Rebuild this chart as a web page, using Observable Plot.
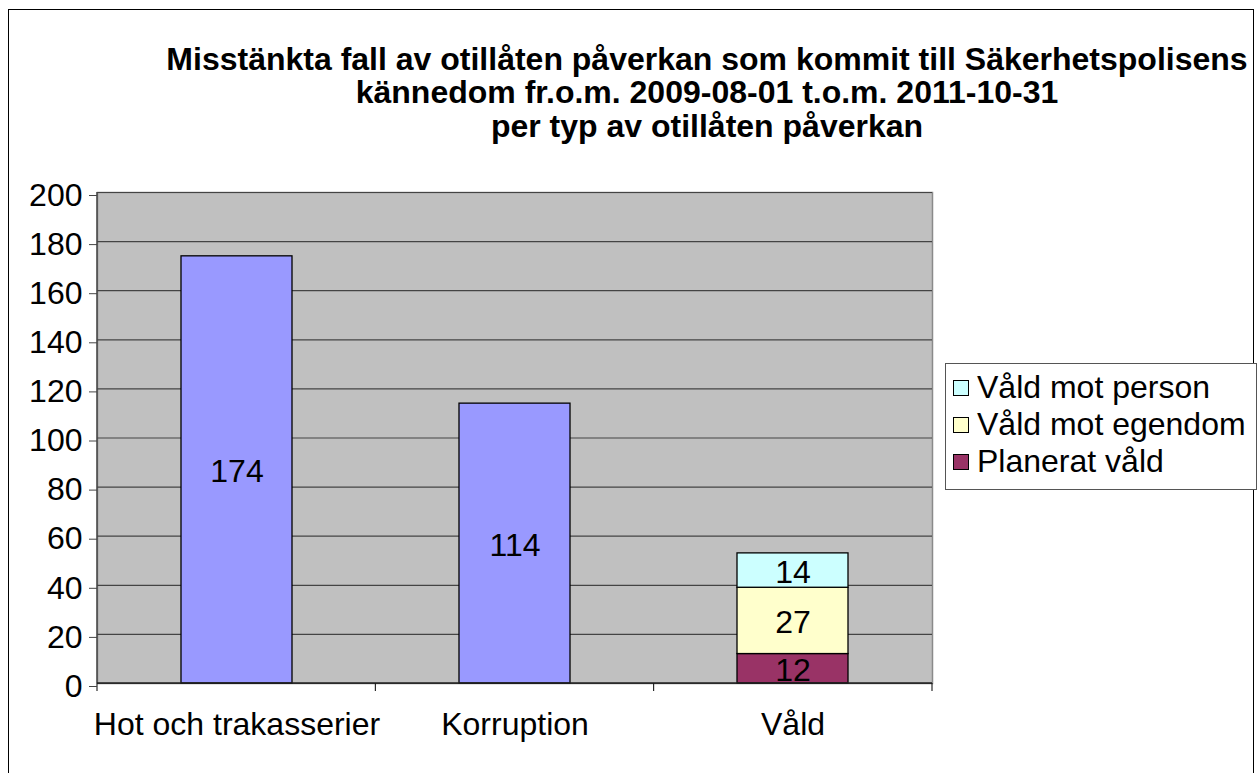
<!DOCTYPE html>
<html><head><meta charset="utf-8">
<script src="https://cdn.jsdelivr.net/npm/d3@7"></script>
<script src="https://cdn.jsdelivr.net/npm/@observablehq/plot@0.6"></script>
<style>
body{margin:0;background:#fff;font-family:"Liberation Sans",Arial,sans-serif;}
#wrap{position:relative;width:1258px;height:773px;overflow:hidden;}
#border{position:absolute;left:8px;top:9px;width:1246px;height:800px;border:1px solid #000;box-sizing:border-box;}
#title{position:absolute;left:107px;width:1200px;top:43px;text-align:center;font-weight:bold;font-size:32px;line-height:33.3px;color:#000;}
#chart{position:absolute;left:0;top:0;}
#legend{position:absolute;left:945px;top:363px;width:312px;height:127px;border:1px solid #555;box-sizing:border-box;background:#fff;padding-top:5px;}
.row{display:flex;align-items:center;height:37px;font-size:32px;color:#000;white-space:nowrap;}
.sw{width:16px;height:16px;border:1px solid #000;box-sizing:border-box;margin-left:7px;margin-right:8px;flex:none;}
</style></head>
<body>
<div id="wrap">
<div id="border"></div>
<div id="chart"></div>
<div id="title">Misstänkta fall av otillåten påverkan som kommit till Säkerhetspolisens<br>kännedom fr.o.m. 2009-08-01 t.o.m. 2011-10-31<br>per typ av otillåten påverkan</div>
<div id="legend"></div>
</div>
<script>
const categories = ["Hot och trakasserier", "Korruption", "Våld"];
const seriesNames = ["Hot och trakasserier", "Korruption", "Planerat våld", "Våld mot egendom", "Våld mot person"];
const seriesCategory = ["Hot och trakasserier", "Korruption", "Våld", "Våld", "Våld"];
const seriesValues = [174, 114, 12, 27, 14];
const yTicks = [0, 20, 40, 60, 80, 100, 120, 140, 160, 180, 200];
const palette = ["#9999FF", "#9999FF", "#993366", "#FFFFCC", "#CCFFFF"];
const legendSeries = ["Våld mot person", "Våld mot egendom", "Planerat våld"];

const rows = seriesNames.map((s, i) => ({category: seriesCategory[i], series: s, value: seriesValues[i]}));
const colorOf = s => palette[seriesNames.indexOf(s)];

function frameLines(index, scales, values, dimensions) {
  const {width, height, marginLeft, marginRight, marginTop, marginBottom} = dimensions;
  const n = categories.length;
  const step = (width - marginLeft - marginRight) / n;
  const g = d3.create("svg:g");
  const yb = height - marginBottom;
  for (let i = 0; i <= n; i++) {
    const x = marginLeft + i * step;
    g.append("line").attr("x1", x).attr("x2", x).attr("y1", yb).attr("y2", yb + 8).attr("stroke", "#000");
  }
  g.append("line").attr("x1", marginLeft).attr("x2", marginLeft).attr("y1", marginTop).attr("y2", yb).attr("stroke", "#444").attr("stroke-width", 1.5);
  g.append("line").attr("x1", marginLeft).attr("x2", width - marginRight).attr("y1", yb).attr("y2", yb).attr("stroke", "#222").attr("stroke-width", 1.5);
  return g.node();
}

const chart = Plot.plot({
  width: 1258,
  height: 773,
  marginLeft: 97,
  marginRight: 326,
  marginTop: 192,
  marginBottom: 90,
  style: {fontFamily: "'Liberation Sans', Arial, sans-serif", fontSize: "32px", color: "#000", background: "transparent", overflow: "visible"},
  x: {domain: categories, paddingInner: 0.6, paddingOuter: 0.3, label: null},
  y: {domain: [0, 200], label: null},
  color: {domain: seriesNames, range: palette},
  marks: [
    Plot.frame({fill: "#C0C0C0", stroke: "#8a8a8a", strokeWidth: 1.5}),
    Plot.ruleY(yTicks, {stroke: "#444", strokeWidth: 1.2}),
    Plot.barY(rows, {x: "category", y: "value", fill: "series", z: "series", stroke: "#000", strokeWidth: 1.3}),
    Plot.text(rows, Plot.stackY({x: "category", y: "value", z: "series", text: "value", fill: "#000", fontSize: 32, dy: 2})),
    frameLines,
    Plot.axisY(yTicks, {tickSize: 8, tickPadding: 7, fontSize: 32, stroke: "#444", dy: 3, label: null}),
    Plot.axisX({tickSize: 0, tickPadding: 29, fontSize: 32, label: null})
  ]
});
document.getElementById("chart").appendChild(chart);

const legend = d3.select("#legend");
legendSeries.forEach(s => {
  const r = legend.append("div").attr("class", "row");
  r.append("div").attr("class", "sw").style("background", colorOf(s));
  r.append("span").text(s);
});
</script>
</body></html>
